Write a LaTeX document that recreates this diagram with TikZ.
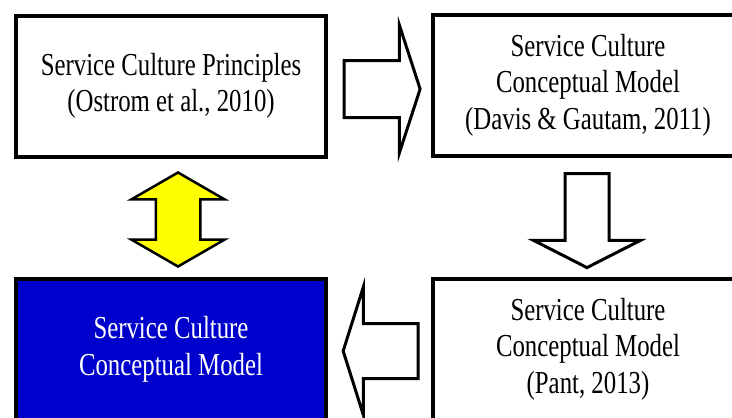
\documentclass[tikz,border=0pt]{standalone}
\usepackage{fontspec}
\setmainfont{Liberation Serif}
\usetikzlibrary{shapes.arrows}
\definecolor{boxblue}{RGB}{0,0,204}
\definecolor{arrowyellow}{RGB}{255,255,0}
\newcommand{\narrowtext}[1]{\scalebox{0.775}[1]{\begin{tabular}{@{}c@{}}#1\end{tabular}}}

\begin{document}
\begin{tikzpicture}[x=1pt, y=-1pt,
		box/.style={draw, line width=4pt, minimum width=310pt, minimum height=141pt, inner sep=0pt, font=\fontsize{32}{36.5}\selectfont},
		blockarrow/.style={single arrow, draw, line width=3pt, fill=white, inner xsep=0pt}]
	\useasboundingbox (0, 0) rectangle (732, 418);
	\clip (0, 0) rectangle (732, 418);

	% the four boxes
	\node[box] (principles) at (171, 86) {\narrowtext{Service Culture Principles\\(Ostrom et al., 2010)}};
	\node[box] (davis) at (588, 85.5) {\narrowtext{Service Culture\\Conceptual Model\\(Davis \& Gautam, 2011)}};
	\node[box] (pant) at (588, 349.5) {\narrowtext{Service Culture\\Conceptual Model\\(Pant, 2013)}};
	\node[box, fill=boxblue, text=white] (model) at (171, 349.5) {\narrowtext{Service Culture\\Conceptual Model}};

	% block arrows between them
	\node[blockarrow, inner ysep=27pt, minimum height=76pt, single arrow head extend=35.5pt, single arrow tip angle=144] (toDavis) at (377.5, 89) {};
	\node[blockarrow, inner ysep=20.5pt, minimum height=94pt, single arrow head extend=31.5pt, single arrow tip angle=126, rotate=-90] (toPant) at (587, 215) {};
	\node[blockarrow, inner ysep=26pt, minimum height=75pt, single arrow head extend=36.5pt, single arrow tip angle=145, rotate=180] (toModel) at (385, 351) {};
	\node[double arrow, draw, line width=2.5pt, fill=arrowyellow, inner xsep=0pt, inner ysep=21pt, minimum height=94pt, double arrow head extend=24.5pt, double arrow tip angle=120, rotate=90] (link) at (178, 219.5) {};
\end{tikzpicture}
\end{document}
